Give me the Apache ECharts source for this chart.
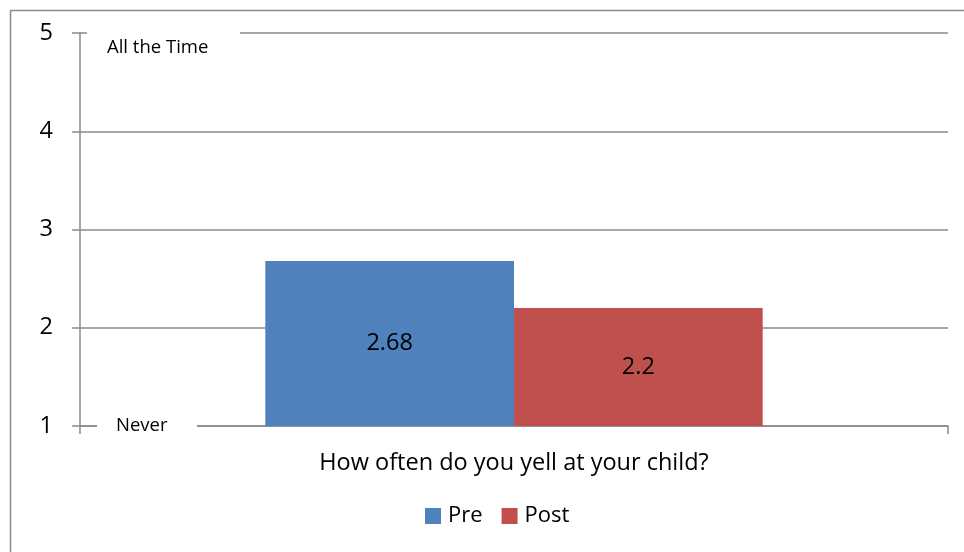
<!DOCTYPE html>
<html>
<head>
<meta charset="utf-8">
<script src="https://cdn.jsdelivr.net/npm/echarts@6/dist/echarts.min.js"></script>
<style>
  html, body { margin: 0; padding: 0; background: #fff; }
  #chart { width: 964px; height: 552px; }
</style>
</head>
<body>
<div id="chart"></div>
<script>
// Survey item and mean ratings on a 1 (Never) to 5 (All the Time) scale
const categories = ['How often do you yell at your child?'];
const preValues = [2.68];
const postValues = [2.2];
const seriesNames = ['Pre', 'Post'];
const scaleMin = 1;
const scaleMax = 5;
const scaleTopLabel = 'All the Time';
const scaleBottomLabel = 'Never';

const FONT = '"Open Sans", Lato, sans-serif';
const GRID_COLOR = '#8a8a8a';

const chart = echarts.init(document.getElementById('chart'), null, { renderer: 'canvas' });

const option = {
  backgroundColor: '#ffffff',
  animation: false,
  textStyle: { fontFamily: FONT, color: '#000' },
  grid: { left: 80, right: 16, top: 33, bottom: 126 },
  legend: {
    data: seriesNames,
    top: 505,
    left: 425,
    padding: 0,
    itemWidth: 16,
    itemHeight: 16,
    itemGap: 19,
    icon: 'rect',
    textStyle: { fontSize: 22, fontFamily: FONT, color: '#000', padding: [0, 0, 0, 2] }
  },
  xAxis: {
    type: 'category',
    data: categories,
    axisLine: { show: true, lineStyle: { color: GRID_COLOR, width: 1.5 } },
    axisTick: { show: true, alignWithLabel: false, length: 8, lineStyle: { color: GRID_COLOR, width: 1.5 } },
    axisLabel: { fontSize: 23.5, color: '#000', fontFamily: FONT, margin: 25 }
  },
  yAxis: {
    type: 'value',
    min: scaleMin,
    max: scaleMax,
    interval: 1,
    axisLine: { show: true, lineStyle: { color: GRID_COLOR, width: 1.5 } },
    axisTick: { show: true, length: 8, lineStyle: { color: GRID_COLOR, width: 1.5 } },
    axisLabel: { fontSize: 23.5, color: '#000', fontFamily: FONT, margin: 27 },
    splitLine: { show: true, lineStyle: { color: GRID_COLOR, width: 1.5 } }
  },
  series: [
    {
      name: seriesNames[0],
      type: 'bar',
      data: preValues,
      barGap: '0%',
      barCategoryGap: '42.7%',
      itemStyle: { color: '#4F81BD' },
      label: { show: true, position: 'inside', fontSize: 23.5, color: '#000', fontFamily: FONT }
    },
    {
      name: seriesNames[1],
      type: 'bar',
      data: postValues,
      itemStyle: { color: '#C0504D' },
      label: { show: true, position: 'inside', fontSize: 23.5, color: '#000', fontFamily: FONT }
    }
  ]
};

chart.setOption(option);

// Scale end captions sit on white boxes over the top gridline and the baseline
const topY = chart.convertToPixel({ yAxisIndex: 0 }, scaleMax);
const bottomY = chart.convertToPixel({ yAxisIndex: 0 }, scaleMin);
const leftX = 80;

chart.setOption({
  graphic: [
    {
      type: 'rect',
      left: 8, top: 8,
      shape: { width: 1100, height: 700 },
      style: { fill: 'none', stroke: '#8c8c8c', lineWidth: 1.5 },
      silent: true,
      z: 100
    },
    {
      type: 'rect',
      x: leftX + 7, y: topY - 6,
      shape: { width: 153, height: 32 },
      style: { fill: '#fff' },
      z: 50
    },
    {
      type: 'text',
      x: leftX + 27, y: topY + 15,
      style: { text: scaleTopLabel, font: '18.5px ' + FONT, fill: '#000', textVerticalAlign: 'middle', verticalAlign: 'middle' },
      z: 51
    },
    {
      type: 'rect',
      x: leftX + 17, y: bottomY - 10,
      shape: { width: 100, height: 20 },
      style: { fill: '#fff' },
      z: 50
    },
    {
      type: 'text',
      x: leftX + 36, y: bottomY,
      style: { text: scaleBottomLabel, font: '18.5px ' + FONT, fill: '#000', textVerticalAlign: 'middle', verticalAlign: 'middle' },
      z: 51
    }
  ]
});
</script>
</body>
</html>
